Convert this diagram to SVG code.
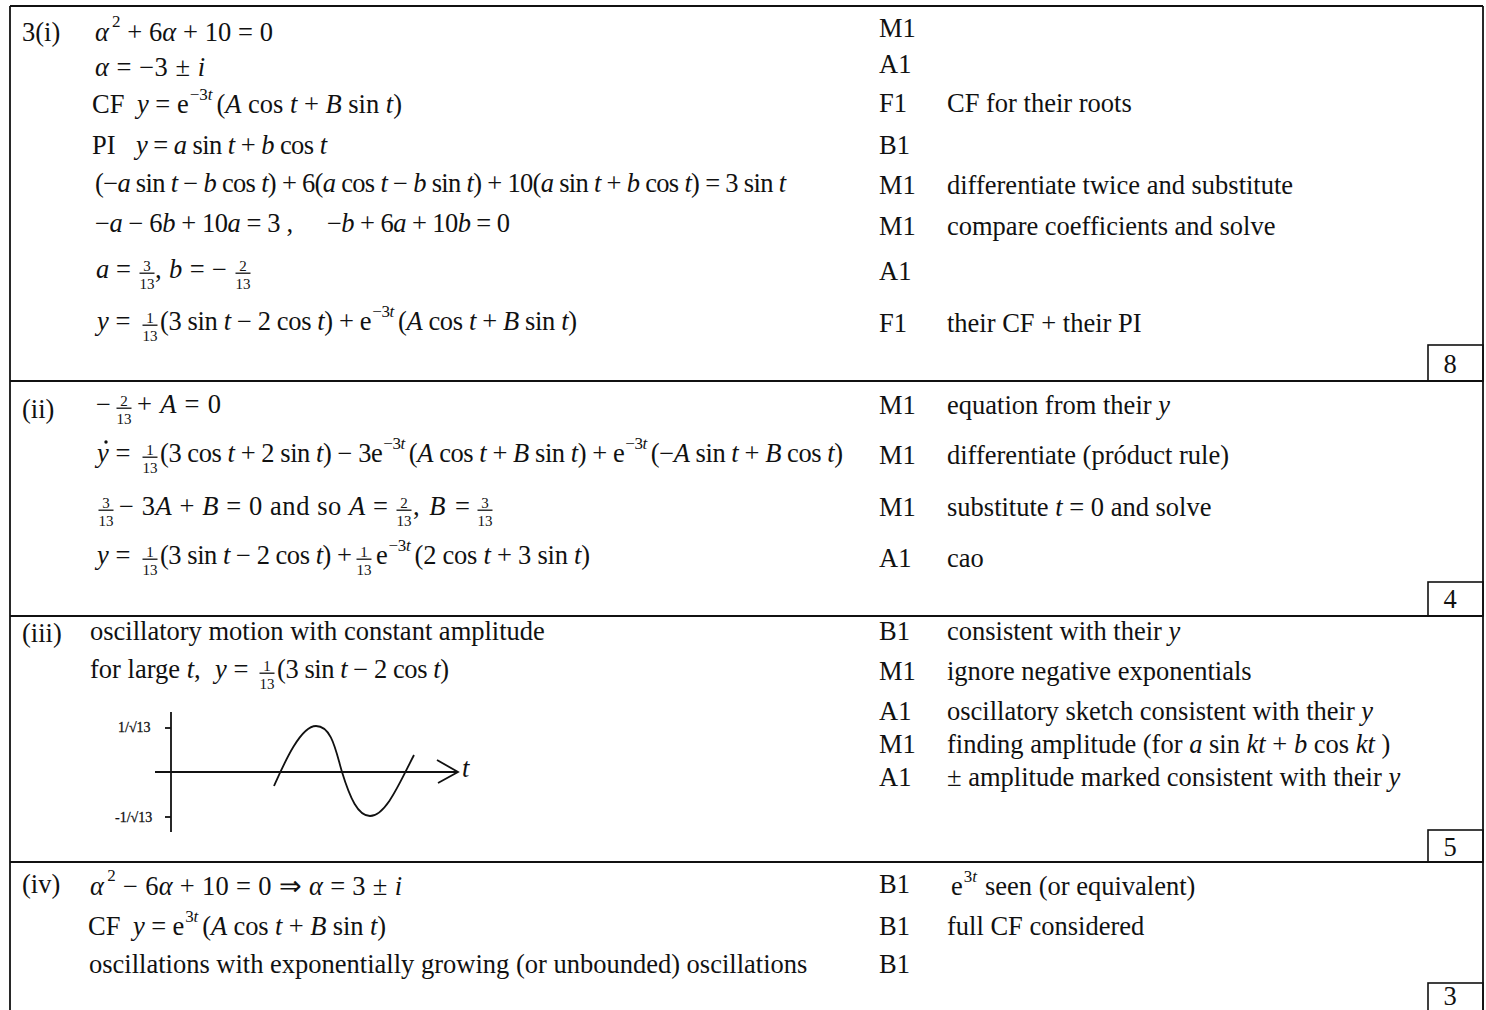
<svg xmlns="http://www.w3.org/2000/svg" width="1486" height="1010" viewBox="0 0 1486 1010">
<style>
.s{font-family:"Liberation Serif","Times New Roman",serif;font-size:26.5px;fill:#111}
.i{font-style:italic}
.sp{font-size:17px}
.f{font-size:15px;text-anchor:middle}
.sm{font-size:14px;stroke:#111;stroke-width:0.3}
.c{text-anchor:middle}
.fb{stroke:#111;stroke-width:1.3}
.ln{stroke:#111;stroke-width:1.8;fill:none}
.bx{stroke:#111;stroke-width:1.6;fill:none}
</style>
<defs>
<g id="f13"><line class="fb" x1="-7.5" y1="-4.8" x2="7.5" y2="-4.8"/><text class="s f" y="10.5">13</text></g>
</defs>
<rect width="1486" height="1010" fill="#fff"/>
<g id="table">
<line class="ln" x1="10" y1="6" x2="1483" y2="6"/>
<line class="ln" x1="10" y1="6" x2="10" y2="1010"/>
<line class="ln" x1="1483" y1="6" x2="1483" y2="1010"/>
<line class="ln" x1="10" y1="381" x2="1483" y2="381"/>
<line class="ln" x1="10" y1="616" x2="1483" y2="616"/>
<line class="ln" x1="10" y1="862" x2="1483" y2="862"/>
</g>
<g id="part-i">
<text class="s" x="22" y="41">3(i)</text>
<text class="s" x="95" y="41" textLength="178"><tspan class="i">α</tspan><tspan class="sp" dx="3" dy="-14">2</tspan><tspan dy="14"> + 6</tspan><tspan class="i">α</tspan> + 10 = 0</text>
<text class="s" x="95" y="76" textLength="110"><tspan class="i">α</tspan> = −3 ± <tspan class="i">i</tspan></text>
<text class="s" x="92" y="113">CF</text>
<text class="s" x="137" y="113" textLength="265"><tspan class="i">y</tspan> = e<tspan class="sp" dx="1" dy="-13">−3<tspan class="i">t</tspan></tspan><tspan dx="4" dy="13">(<tspan class="i">A</tspan> cos <tspan class="i">t</tspan> + <tspan class="i">B</tspan> sin <tspan class="i">t</tspan>)</tspan></text>
<text class="s" x="92" y="154">PI</text>
<text class="s" x="136" y="154" textLength="191"><tspan class="i">y</tspan> = <tspan class="i">a</tspan> sin <tspan class="i">t</tspan> + <tspan class="i">b</tspan> cos <tspan class="i">t</tspan></text>
<text class="s" x="95" y="192" textLength="691">(−<tspan class="i">a</tspan> sin <tspan class="i">t</tspan> − <tspan class="i">b</tspan> cos <tspan class="i">t</tspan>) + 6(<tspan class="i">a</tspan> cos <tspan class="i">t</tspan> − <tspan class="i">b</tspan> sin <tspan class="i">t</tspan>) + 10(<tspan class="i">a</tspan> sin <tspan class="i">t</tspan> + <tspan class="i">b</tspan> cos <tspan class="i">t</tspan>) = 3 sin <tspan class="i">t</tspan></text>
<text class="s" x="95" y="232" textLength="198">−<tspan class="i">a</tspan> − 6<tspan class="i">b</tspan> + 10<tspan class="i">a</tspan> = 3 ,</text>
<text class="s" x="327" y="232" textLength="183">−<tspan class="i">b</tspan> + 6<tspan class="i">a</tspan> + 10<tspan class="i">b</tspan> = 0</text>
<text class="s" x="96" y="278"><tspan class="i">a</tspan> =</text>
<g transform="translate(147,278)"><text class="s f" y="-7.5">3</text><use href="#f13"/></g>
<text class="s" x="155" y="278" textLength="72">, <tspan class="i">b</tspan> = −</text>
<g transform="translate(243,278)"><text class="s f" y="-7.5">2</text><use href="#f13"/></g>
<text class="s" x="97" y="330"><tspan class="i">y</tspan> =</text>
<g transform="translate(150,330)"><text class="s f" y="-7.5">1</text><use href="#f13"/></g>
<text class="s" x="160" y="330" textLength="417">(3 sin <tspan class="i">t</tspan> − 2 cos <tspan class="i">t</tspan>) + e<tspan class="sp" dx="1" dy="-13">−3<tspan class="i">t</tspan></tspan><tspan dx="4" dy="13">(<tspan class="i">A</tspan> cos <tspan class="i">t</tspan> + <tspan class="i">B</tspan> sin <tspan class="i">t</tspan>)</tspan></text>
<text class="s" x="879" y="37">M1</text>
<text class="s" x="879" y="73">A1</text>
<text class="s" x="879" y="112">F1</text>
<text class="s" x="879" y="154">B1</text>
<text class="s" x="879" y="194">M1</text>
<text class="s" x="879" y="235">M1</text>
<text class="s" x="879" y="280">A1</text>
<text class="s" x="879" y="332">F1</text>
<text class="s" x="947" y="112">CF for their roots</text>
<text class="s" x="947" y="194">differentiate twice and substitute</text>
<text class="s" x="947" y="235">compare coefficients and solve</text>
<text class="s" x="947" y="332">their CF + their PI</text>
<rect class="bx" x="1428" y="345" width="55" height="36"/>
<text class="s c" x="1450" y="373">8</text>
</g>
<g id="part-ii">
<text class="s" x="22" y="418">(ii)</text>
<text class="s" x="96" y="413">−</text>
<g transform="translate(124,413)"><text class="s f" y="-7.5">2</text><use href="#f13"/></g>
<text class="s" x="137" y="413" textLength="84">+ <tspan class="i">A</tspan> = 0</text>
<text class="s" x="97" y="462"><tspan class="i">y</tspan> =</text>
<circle cx="106" cy="442" r="1.7" fill="#111"/>
<g transform="translate(150,462)"><text class="s f" y="-7.5">1</text><use href="#f13"/></g>
<text class="s" x="160" y="462" textLength="683">(3 cos <tspan class="i">t</tspan> + 2 sin <tspan class="i">t</tspan>) − 3e<tspan class="sp" dx="1" dy="-13">−3<tspan class="i">t</tspan></tspan><tspan dx="4" dy="13">(<tspan class="i">A</tspan> cos <tspan class="i">t</tspan> + <tspan class="i">B</tspan> sin <tspan class="i">t</tspan>) + e</tspan><tspan class="sp" dx="1" dy="-13">−3<tspan class="i">t</tspan></tspan><tspan dx="4" dy="13">(−<tspan class="i">A</tspan> sin <tspan class="i">t</tspan> + <tspan class="i">B</tspan> cos <tspan class="i">t</tspan>)</tspan></text>
<g transform="translate(106,515)"><text class="s f" y="-7.5">3</text><use href="#f13"/></g>
<text class="s" x="119" y="515" textLength="269">− 3<tspan class="i">A</tspan> + <tspan class="i">B</tspan> = 0  and so  <tspan class="i">A</tspan> =</text>
<g transform="translate(404,515)"><text class="s f" y="-7.5">2</text><use href="#f13"/></g>
<text class="s" x="413" y="515" textLength="57">, <tspan class="i">B</tspan> =</text>
<g transform="translate(485,515)"><text class="s f" y="-7.5">3</text><use href="#f13"/></g>
<text class="s" x="97" y="564"><tspan class="i">y</tspan> =</text>
<g transform="translate(150,564)"><text class="s f" y="-7.5">1</text><use href="#f13"/></g>
<text class="s" x="160" y="564" textLength="192">(3 sin <tspan class="i">t</tspan> − 2 cos <tspan class="i">t</tspan>) +</text>
<g transform="translate(364,564)"><text class="s f" y="-7.5">1</text><use href="#f13"/></g>
<text class="s" x="376" y="564" textLength="214">e<tspan class="sp" dx="1" dy="-13">−3<tspan class="i">t</tspan></tspan><tspan dx="4" dy="13">(2 cos <tspan class="i">t</tspan> + 3 sin <tspan class="i">t</tspan>)</tspan></text>
<text class="s" x="879" y="414">M1</text>
<text class="s" x="879" y="464">M1</text>
<text class="s" x="879" y="516">M1</text>
<text class="s" x="879" y="567">A1</text>
<text class="s" x="947" y="414">equation from their <tspan class="i">y</tspan></text>
<text class="s" x="947" y="464">differentiate (próduct rule)</text>
<text class="s" x="947" y="516">substitute <tspan class="i">t</tspan> = 0 and solve</text>
<text class="s" x="947" y="567">cao</text>
<rect class="bx" x="1428" y="582" width="55" height="34"/>
<text class="s c" x="1450" y="608">4</text>
</g>
<g id="part-iii">
<text class="s" x="22" y="642">(iii)</text>
<text class="s" x="90" y="640">oscillatory motion with constant amplitude</text>
<text class="s" x="90" y="678">for large <tspan class="i">t</tspan>,</text>
<text class="s" x="215" y="678"><tspan class="i">y</tspan> =</text>
<g transform="translate(267,678)"><text class="s f" y="-7.5">1</text><use href="#f13"/></g>
<text class="s" x="277" y="678" textLength="172">(3 sin <tspan class="i">t</tspan> − 2 cos <tspan class="i">t</tspan>)</text>
<g id="sketch">
<line class="ln" x1="171" y1="712" x2="171" y2="832"/>
<line class="ln" x1="165" y1="728" x2="171" y2="728"/>
<line class="ln" x1="165" y1="817" x2="171" y2="817"/>
<line class="ln" x1="155" y1="772" x2="458" y2="772"/>
<polyline class="ln" points="437,760 458,772 438,783"/>
<path class="ln" d="M274,786 C283,766 300,726 316,726 C332,726 336,752 342,772 C350,798 358,816 370,816 C386,816 400,782 414,755"/>
<text class="s sm" x="118" y="732">1/√13</text>
<text class="s sm" x="115" y="822">-1/√13</text>
<text class="s i" x="462" y="777" font-size="17">t</text>
</g>
<text class="s" x="879" y="640">B1</text>
<text class="s" x="879" y="680">M1</text>
<text class="s" x="879" y="720">A1</text>
<text class="s" x="879" y="753">M1</text>
<text class="s" x="879" y="786">A1</text>
<text class="s" x="947" y="640">consistent with their <tspan class="i">y</tspan></text>
<text class="s" x="947" y="680">ignore negative exponentials</text>
<text class="s" x="947" y="720">oscillatory sketch consistent with their <tspan class="i">y</tspan></text>
<text class="s" x="947" y="753">finding amplitude (for <tspan class="i">a</tspan> sin <tspan class="i">kt</tspan> + <tspan class="i">b</tspan> cos <tspan class="i">kt</tspan> )</text>
<text class="s" x="947" y="786">± amplitude marked consistent with their <tspan class="i">y</tspan></text>
<rect class="bx" x="1428" y="830" width="55" height="32"/>
<text class="s c" x="1450" y="856">5</text>
</g>
<g id="part-iv">
<text class="s" x="22" y="893">(iv)</text>
<text class="s" x="90" y="895" textLength="312"><tspan class="i">α</tspan><tspan class="sp" dx="3" dy="-14">2</tspan><tspan dy="14"> − 6</tspan><tspan class="i">α</tspan> + 10 = 0 ⇒ <tspan class="i">α</tspan> = 3 ± <tspan class="i">i</tspan></text>
<text class="s" x="88" y="935">CF</text>
<text class="s" x="133" y="935" textLength="253"><tspan class="i">y</tspan> = e<tspan class="sp" dx="1" dy="-13">3<tspan class="i">t</tspan></tspan><tspan dx="4" dy="13">(<tspan class="i">A</tspan> cos <tspan class="i">t</tspan> + <tspan class="i">B</tspan> sin <tspan class="i">t</tspan>)</tspan></text>
<text class="s" x="89" y="973">oscillations with exponentially growing (or unbounded) oscillations</text>
<text class="s" x="879" y="893">B1</text>
<text class="s" x="879" y="935">B1</text>
<text class="s" x="879" y="973">B1</text>
<text class="s" x="951" y="895">e<tspan class="sp" dx="1" dy="-13">3<tspan class="i">t</tspan></tspan><tspan dx="8" dy="13">seen (or equivalent)</tspan></text>
<text class="s" x="947" y="935">full CF considered</text>
<rect class="bx" x="1428" y="983" width="55" height="30"/>
<text class="s c" x="1450" y="1005">3</text>
</g>
</svg>
